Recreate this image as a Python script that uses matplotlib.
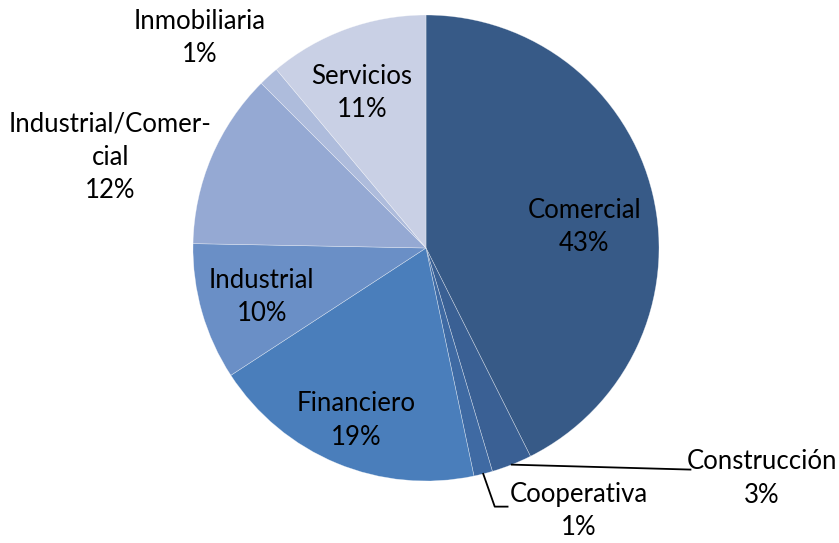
import numpy as np
import matplotlib
matplotlib.use("Agg")
import matplotlib.pyplot as plt

sectores = ['Comercial', 'Construcción', 'Cooperativa', 'Financiero', 'Industrial',
            'Industrial/Comer-\ncial', 'Inmobiliaria', 'Servicios']
valores = [42.6, 2.8, 1.3, 19.1, 9.5, 12.2, 1.4, 11.1]
porcentajes = ['43%', '3%', '1%', '19%', '10%', '12%', '1%', '11%']
colores = ['#375a87', '#3a6094', '#3f6aa3', '#4a7ebb', '#6a8fc6',
           '#95a9d3', '#aebcdc', '#c9d0e5']

# posiciones de etiquetas (en radios, relativas al centro)
pos_etiquetas = [(0.68, 0.09), (1.44, -0.99), (0.655, -1.13), (-0.30, -0.74),
                 (-0.705, -0.21), (-1.355, 0.39), (-0.97, 0.90), (-0.275, 0.665)]

plt.rcParams['font.family'] = ['Lato', 'DejaVu Sans']

fig = plt.figure(figsize=(8.39, 5.43), dpi=100)
ax = fig.add_axes([193 / 839, 62 / 543, 466 / 839, 466 / 543])

wedges, _ = ax.pie(valores, colors=colores, startangle=90, counterclock=False,
                   radius=1, wedgeprops=dict(edgecolor=(1, 1, 1, 0.5), linewidth=0.4))

for i, w in enumerate(wedges):
    x, y = pos_etiquetas[i]
    ax.text(x, y, sectores[i] + '\n' + porcentajes[i], ha='center', va='center',
            fontsize=18.5, color='black', linespacing=1.42)

# lineas guia para los sectores pequeños
w = wedges[1]
ang = np.deg2rad((w.theta1 + w.theta2) / 2)
x0, y0 = np.cos(ang), np.sin(ang)
ax.plot([x0, 1.135], [y0, -0.951], color='black', lw=1.3, clip_on=False)

w = wedges[2]
ang = np.deg2rad((w.theta1 + w.theta2) / 2)
x0, y0 = np.cos(ang), np.sin(ang)
ax.plot([x0, 0.295, 0.35], [y0, -1.11, -1.11], color='black', lw=1.3, clip_on=False)

ax.set_xlim(-1, 1)
ax.set_ylim(-1, 1)
ax.set_aspect('equal')
ax.axis('off')

fig.savefig('out.png', dpi=100)
